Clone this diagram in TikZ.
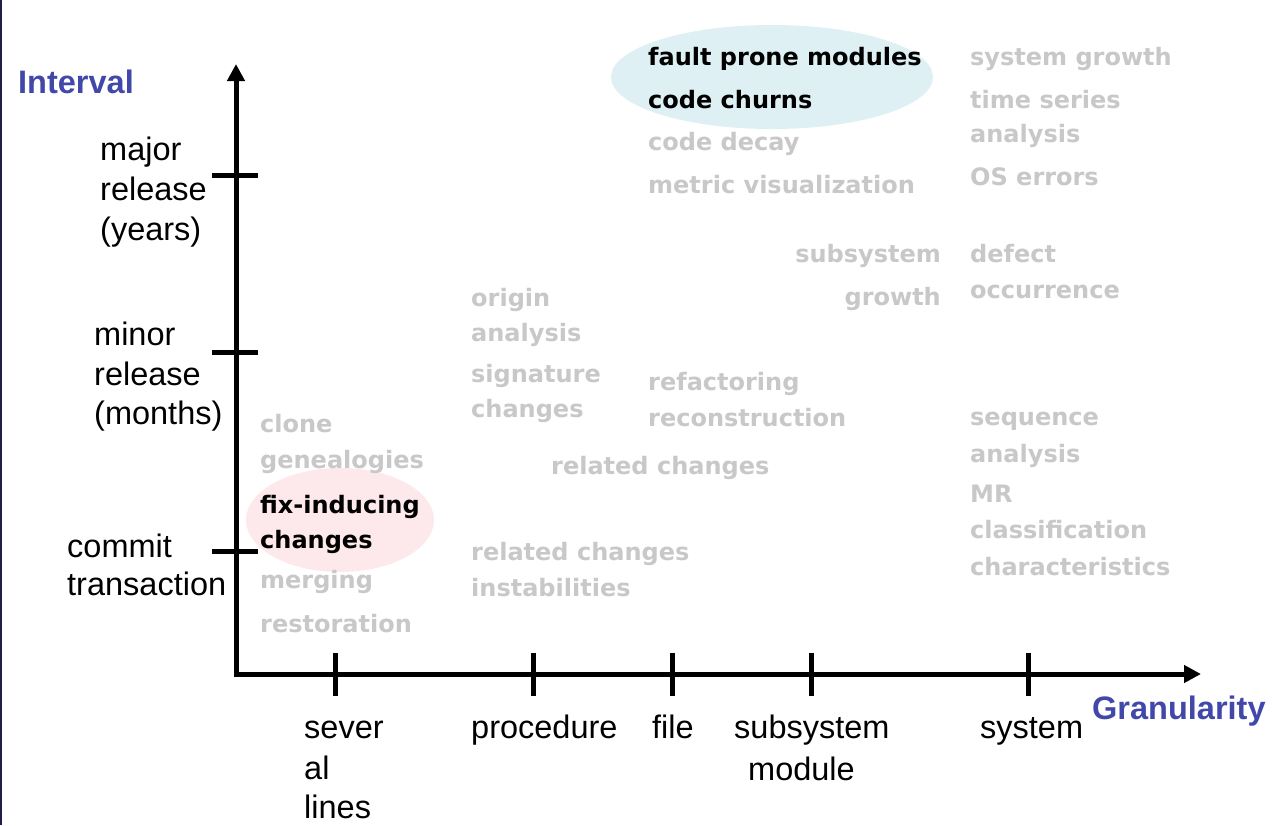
\documentclass[tikz,border=0pt]{standalone}
\usepackage{fontspec}
\setmainfont{Liberation Sans}
\newfontfamily\gfont{DejaVu Sans}
\usetikzlibrary{arrows.meta}
\definecolor{axisblue}{RGB}{66,72,170}
\definecolor{itemgray}{RGB}{200,200,200}
\definecolor{cyanfill}{RGB}{222,240,243}
\definecolor{pinkfill}{RGB}{253,233,235}
\definecolor{frameblue}{RGB}{30,30,70}
\begin{document}
\begin{tikzpicture}[x=1pt,y=-1pt,
  lbl/.style={anchor=base west, inner sep=0pt, font=\fontsize{32.5}{40}\selectfont},
  itm/.style={anchor=base west, inner sep=0pt, font=\gfont\bfseries\fontsize{24}{30}\selectfont, text=itemgray},
  itmr/.style={itm, anchor=base east},
  hit/.style={itm, text=black},
  ttl/.style={anchor=base west, inner sep=0pt, font=\bfseries\fontsize{32.5}{40}\selectfont, text=axisblue},
  axisline/.style={line width=5pt, line join=miter},
  tickline/.style={line width=5pt}]
\useasboundingbox (0,0) rectangle (1272,825);
\fill[white] (0,0) rectangle (1272,825);
\draw[frameblue, line width=2pt] (1,0) -- (1,825);
% highlight ellipses
\fill[cyanfill] (772,77) ellipse [x radius=161, y radius=52];
\fill[pinkfill] (340,520) ellipse [x radius=94, y radius=52];
% axes
\coordinate (O) at (236,674);
\coordinate (ytip) at (236,64);
\coordinate (xtip) at (1201,674);
\draw[axisline, {Triangle[width=17pt,length=17pt]}-{Triangle[width=17pt,length=17pt]}] (ytip) -- (O) -- (xtip);
\foreach \y in {175,352,551} \draw[tickline] (212,\y) -- (258,\y);
\foreach \x in {335,533,672,811,1028} \draw[tickline] (\x,653) -- (\x,696);
% axis titles
\node[ttl] (interval) at (18,93) {Interval};
\node[ttl] (gran) at (1092,719) {Granularity};
% interval labels
\node[lbl] (maj1) at (100,160) {major};
\node[lbl] (maj2) at (100,200) {release};
\node[lbl] (maj3) at (100,240) {(years)};
\node[lbl] (min1) at (94,345) {minor};
\node[lbl] (min2) at (94,385) {release};
\node[lbl] (min3) at (94,424) {(months)};
\node[lbl] (com1) at (67,557) {commit};
\node[lbl] (com2) at (67,595) {transaction};
% granularity labels
\node[lbl] (sev1) at (304,738) {sever};
\node[lbl] (sev2) at (304,779) {al};
\node[lbl] (sev3) at (304,818) {lines};
\node[lbl] (proc) at (471,738) {procedure};
\node[lbl] (file) at (652,738) {file};
\node[lbl] (subs) at (734,738) {subsystem};
\node[lbl] (modu) at (748,780) {module};
\node[lbl] (syst) at (980,738) {system};
% items
\node[hit] (i1) at (648,65) {fault prone modules};
\node[hit] (i2) at (648,108) {code churns};
\node[itm] (i3) at (648,150) {code decay};
\node[itm] (i4) at (648,193) {metric visualization};
\node[itm] (i5) at (970,65) {system growth};
\node[itm] (i6) at (970,108) {time series};
\node[itm] (i7) at (970,142) {analysis};
\node[itm] (i8) at (970,185) {OS errors};
\node[itmr] (i9) at (941,262) {subsystem};
\node[itmr] (i10) at (941,305) {growth};
\node[itm] (i11) at (970,262) {defect};
\node[itm] (i12) at (970,298) {occurrence};
\node[itm] (i13) at (471,306) {origin};
\node[itm] (i14) at (471,341) {analysis};
\node[itm] (i15) at (471,382) {signature};
\node[itm] (i16) at (471,417) {changes};
\node[itm] (i17) at (648,390) {refactoring};
\node[itm] (i18) at (648,426) {reconstruction};
\node[itm] (i19) at (551,474) {related changes};
\node[itm] (i20) at (260,432) {clone};
\node[itm] (i21) at (260,468) {genealogies};
\node[hit] (i22) at (260,513) {fix-inducing};
\node[hit] (i23) at (260,548) {changes};
\node[itm] (i24) at (260,588) {merging};
\node[itm] (i25) at (260,632) {restoration};
\node[itm] (i26) at (471,560) {related changes};
\node[itm] (i27) at (471,596) {instabilities};
\node[itm] (i28) at (970,425) {sequence};
\node[itm] (i29) at (970,462) {analysis};
\node[itm] (i30) at (970,502) {MR};
\node[itm] (i31) at (970,538) {classification};
\node[itm] (i32) at (970,575) {characteristics};
\end{tikzpicture}
\end{document}
